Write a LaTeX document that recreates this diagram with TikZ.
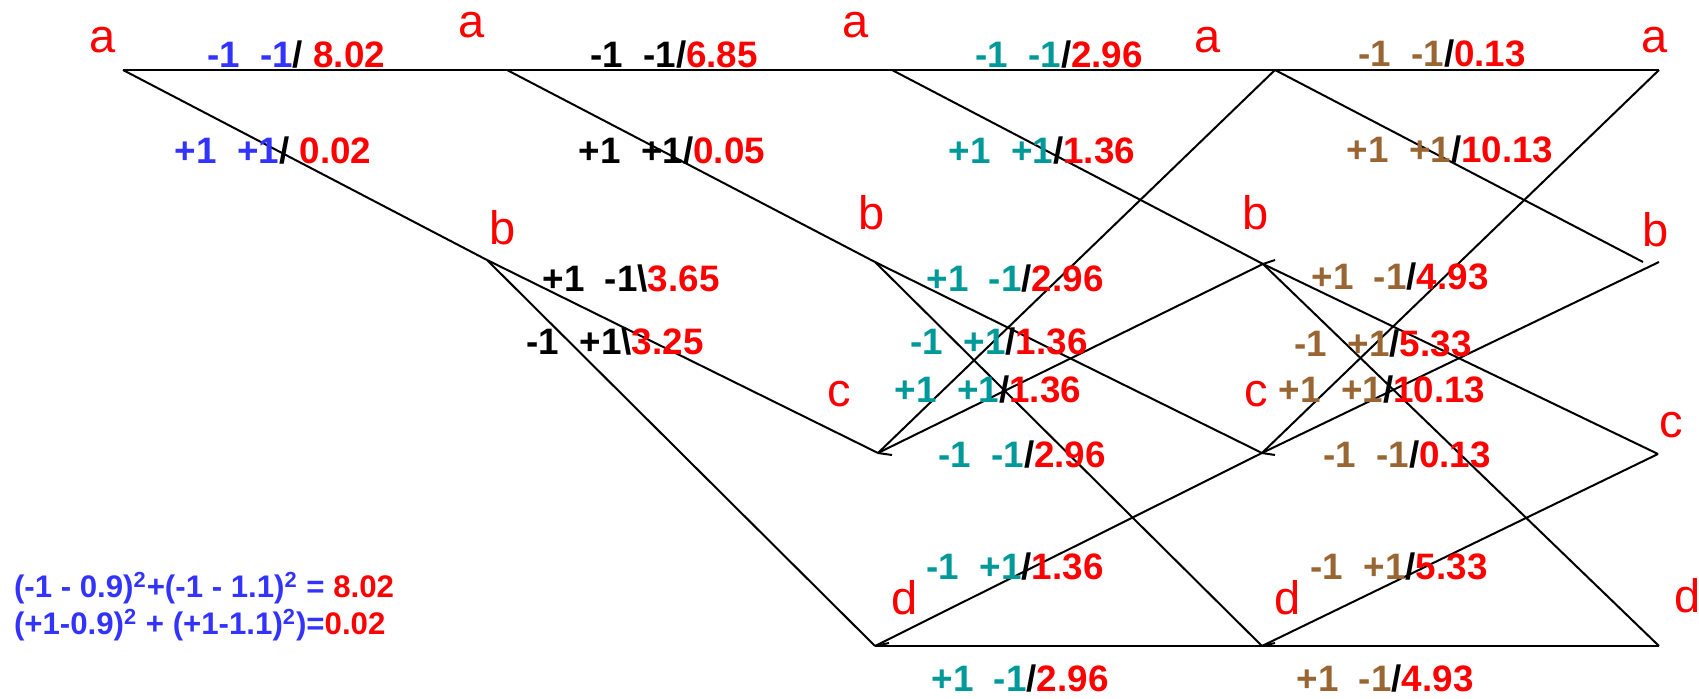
\documentclass[tikz,border=0pt]{standalone}
\usepackage{fontspec}
\setmainfont{Liberation Sans}
\usepackage{xcolor}
\usepackage{tikz}
\definecolor{cBlue}{RGB}{51,51,255}
\definecolor{cTeal}{RGB}{0,153,153}
\definecolor{cBrown}{RGB}{153,102,51}
\definecolor{cRed}{RGB}{255,0,0}
\newcommand{\brm}[4]{\textcolor{#1}{#2}\textcolor{black}{#3}\textcolor{cRed}{#4}}

\begin{document}
\begin{tikzpicture}[x=0.5pt,y=-0.5pt,line width=1pt,
  st/.style={text=cRed,font=\fontsize{23.5}{28}\selectfont,anchor=base,inner sep=0pt},
  br/.style={font=\fontsize{18.4}{22}\selectfont\bfseries,anchor=base,inner sep=0pt}]
  \useasboundingbox (0,0) rectangle (1699,699);
  % states of the trellis
  \coordinate (a0) at (123,70);
  \coordinate (a1) at (507,70);  \coordinate (b1) at (487,260);
  \coordinate (a2) at (892,70);  \coordinate (b2) at (875,262);
  \coordinate (c2) at (878,453); \coordinate (d2) at (875,646);
  \coordinate (a3) at (1275,70); \coordinate (b3) at (1263,264);
  \coordinate (c3) at (1262,453); \coordinate (d3) at (1262,646);
  \coordinate (a4) at (1659,70); \coordinate (b4) at (1643,262);
  \coordinate (b4r) at (1659,262);
  \coordinate (c4) at (1658,454); \coordinate (d4) at (1659,646);
  % branches
  \draw (a0) -- (a1); \draw (a0) -- (b1);
  \draw (a1) -- (a2); \draw (a1) -- (b2);
  \draw (b1) -- (c2); \draw (b1) -- (d2);
  \draw (a2) -- (a3); \draw (a2) -- (b3);
  \draw (b2) -- (c3); \draw (b2) -- (d3);
  \draw (c2) -- (a3); \draw (c2) -- (b3);
  \draw (d2) -- (c3); \draw (d2) -- (d3);
  \draw (a3) -- (a4); \draw (a3) -- (b4);
  \draw (b3) -- (c4); \draw (b3) -- (d4);
  \draw (c3) -- (a4); \draw (c3) -- (b4r);
  \draw (d3) -- (c4); \draw (d3) -- (d4);
  % little overshoots at the joints
  \draw (b3) -- ++(12,-4);
  \draw (c2) -- ++(14,2);
  \draw (c3) -- ++(13,2);
  \draw (d2) -- ++(14,-3);
  \draw (d3) -- ++(13,-3);
  % state letters
  \node[st] (la0) at (103,53) {a};
  \node[st] (la1) at (472,38) {a};
  \node[st] (la2) at (856,38) {a};
  \node[st] (la3) at (1208,53) {a};
  \node[st] (la4) at (1655,53) {a};
  \node[st] (lb1) at (503,245) {b};
  \node[st] (lb2) at (872,230) {b};
  \node[st] (lb3) at (1256,230) {b};
  \node[st] (lb4) at (1656,247) {b};
  \node[st] (lc2) at (839,407) {c};
  \node[st] (lc3) at (1256,407) {c};
  \node[st] (lc4) at (1671,438) {c};
  \node[st] (ld2) at (905,615) {d};
  \node[st] (ld3) at (1288,615) {d};
  \node[st] (ld4) at (1688,613) {d};
  % branch metrics
  \node[br] (m0aa) at (296,68)  {\brm{cBlue}{-1\ \ -1}{/}{\ 8.02}};
  \node[br] (m0ab) at (273,164) {\brm{cBlue}{+1\ \ +1}{/}{\ 0.02}};
  \node[br] (m1aa) at (674,68)  {\brm{black}{-1\ \ -1}{/}{6.85}};
  \node[br] (m1ab) at (672,164) {\brm{black}{+1\ \ +1}{/}{0.05}};
  \node[br] (m1bc) at (631,292) {\brm{black}{+1\ \ -1}{\textbackslash}{3.65}};
  \node[br] (m1bd) at (615,355) {\brm{black}{-1\ \ +1}{\textbackslash}{3.25}};
  \node[br] (m2aa) at (1059,68)  {\brm{cTeal}{-1\ \ -1}{/}{2.96}};
  \node[br] (m2ab) at (1042,164) {\brm{cTeal}{+1\ \ +1}{/}{1.36}};
  \node[br] (m2bc) at (1015,292) {\brm{cTeal}{+1\ \ -1}{/}{2.96}};
  \node[br] (m2bd) at (999,355)  {\brm{cTeal}{-1\ \ +1}{/}{1.36}};
  \node[br] (m2ca) at (988,403)  {\brm{cTeal}{+1\ \ +1}{/}{1.36}};
  \node[br] (m2cb) at (1022,468) {\brm{cTeal}{-1\ \ -1}{/}{2.96}};
  \node[br] (m2dc) at (1015,580) {\brm{cTeal}{-1\ \ +1}{/}{1.36}};
  \node[br] (m2dd) at (1020,692) {\brm{cTeal}{+1\ \ -1}{/}{2.96}};
  \node[br] (m3aa) at (1442,67)  {\brm{cBrown}{-1\ \ -1}{/}{0.13}};
  \node[br] (m3ab) at (1450,163) {\brm{cBrown}{+1\ \ +1}{/}{10.13}};
  \node[br] (m3bc) at (1400,290) {\brm{cBrown}{+1\ \ -1}{/}{4.93}};
  \node[br] (m3bd) at (1383,357) {\brm{cBrown}{-1\ \ +1}{/}{5.33}};
  \node[br] (m3ca) at (1382,403) {\brm{cBrown}{+1\ \ +1}{/}{10.13}};
  \node[br] (m3cb) at (1407,468) {\brm{cBrown}{-1\ \ -1}{/}{0.13}};
  \node[br] (m3dc) at (1399,580) {\brm{cBrown}{-1\ \ +1}{/}{5.33}};
  \node[br] (m3dd) at (1385,692) {\brm{cBrown}{+1\ \ -1}{/}{4.93}};
  % worked example
  \node[br,anchor=base west,text=cBlue,font=\fontsize{15.6}{19}\selectfont\bfseries] (eq1) at (13,598)
    {(-1 - 0.9)\textsuperscript{2}+(-1 - 1.1)\textsuperscript{2} = \textcolor{cRed}{8.02}};
  \node[br,anchor=base west,text=cBlue,font=\fontsize{15.6}{19}\selectfont\bfseries] (eq2) at (13,635)
    {(+1-0.9)\textsuperscript{2} + (+1-1.1)\textsuperscript{2})=\textcolor{cRed}{0.02}};
\end{tikzpicture}
\end{document}
